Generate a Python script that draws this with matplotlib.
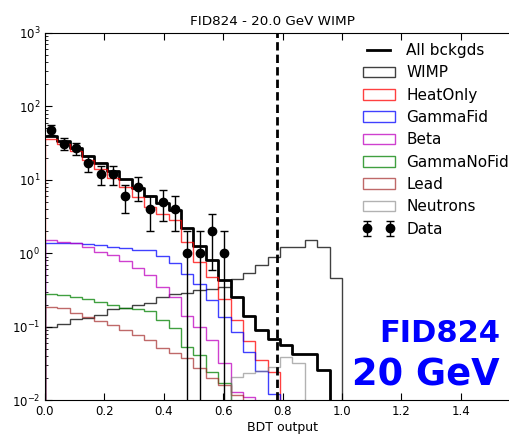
import numpy as np
import matplotlib
matplotlib.use('Agg')
from matplotlib import pyplot as plt

# 24 bins of BDT output between 0 and 1
edges = np.linspace(0, 1, 25)
centers = 0.5 * (edges[:-1] + edges[1:])

all_bckgds = [39.5, 33.8, 27.4, 21.3, 16.8, 13.2, 10.2, 7.8, 6.0, 4.8, 3.9, 2.2,
              1.25, 0.8, 0.43, 0.255, 0.139, 0.09, 0.068, 0.057, 0.043, 0.043, 0.026, 0]
wimp = [0.10, 0.107, 0.125, 0.13, 0.145, 0.172, 0.18, 0.20, 0.21, 0.255, 0.275, 0.29,
        0.32, 0.33, 0.35, 0.44, 0.53, 0.69, 0.88, 1.23, 1.23, 1.51, 1.23, 0.46]
heatonly = [36.5, 30.5, 24.5, 18.5, 14.0, 10.7, 8.0, 5.8, 4.2, 3.4, 2.8, 1.4,
            0.75, 0.47, 0.24, 0.123, 0.063, 0.035, 0.024, 0, 0, 0, 0, 0]
gammafid = [1.39, 1.39, 1.37, 1.33, 1.30, 1.23, 1.19, 1.12, 1.10, 0.93, 0.74, 0.52,
            0.38, 0.23, 0.136, 0.085, 0.045, 0.025, 0.012, 0, 0, 0, 0, 0]
beta = [1.50, 1.43, 1.37, 1.23, 1.04, 0.94, 0.79, 0.62, 0.50, 0.35, 0.255, 0.139,
        0.10, 0.066, 0.032, 0.013, 0.011, 0, 0, 0, 0, 0, 0, 0]
gammanofid = [0.278, 0.267, 0.253, 0.238, 0.218, 0.197, 0.181, 0.172, 0.165, 0.123, 0.095, 0.053,
              0.041, 0.024, 0.017, 0, 0, 0, 0, 0, 0, 0, 0, 0]
lead = [0.187, 0.177, 0.152, 0.136, 0.118, 0.105, 0.090, 0.077, 0.066, 0.0505, 0.044, 0.037,
        0.027, 0.020, 0.016, 0.0117, 0, 0, 0, 0, 0, 0, 0, 0]
neutrons = [0, 0, 0, 0, 0, 0, 0, 0, 0, 0, 0, 0,
            0, 0, 0, 0.0208, 0.023, 0.025, 0.028, 0.039, 0.032, 0, 0, 0]
data_counts = [48, 31, 27, 17, 12, 12, 6, 8, 4, 5, 4, 1, 1, 2, 1]

bdt_cut = 0.78

fig = plt.figure(figsize=(5.09, 4.36), dpi=100)
ax = fig.add_axes([45 / 509, 36 / 436, 475 / 509, 367 / 436])
ax.set_yscale('log')

ax.plot(np.append(edges, edges[-1]), np.concatenate([[all_bckgds[0]], all_bckgds, [0]]),
        drawstyle='steps-pre', color='k', lw=2, label='All bckgds')

components = [
    (wimp, 'k', 0.75, 'WIMP'),
    (heatonly, 'r', 0.75, 'HeatOnly'),
    (gammafid, 'b', 0.75, 'GammaFid'),
    (beta, 'm', 0.75, 'Beta'),
    (gammanofid, 'g', 0.75, 'GammaNoFid'),
    (lead, 'brown', 0.7, 'Lead'),
    (neutrons, 'gray', 0.6, 'Neutrons'),
]
for vals, col, a, lab in components:
    ax.hist(centers, bins=edges, weights=vals, histtype='step', color=col, alpha=a,
            lw=1, label=lab)

dx = centers[:len(data_counts)]
dy = np.array(data_counts, dtype=float)
ax.errorbar(dx, dy, yerr=np.sqrt(dy), fmt='ko', ms=6, ecolor='k', elinewidth=1,
            capsize=3, label='Data')

ax.axvline(bdt_cut, color='k', ls='--', lw=2, dashes=(3, 1.5))

ax.set_ylim(1e-2, 1e3)
ax.set_xlim(0, 1.6)
ax.set_xticks(np.arange(0, 1.5, 0.2))
ax.tick_params(which='both', direction='in', top=True, right=True, labelsize=8.5)
ax.tick_params(which='major', length=5)
ax.tick_params(which='minor', length=2.5)
ax.set_xlabel('BDT output', fontsize=9, labelpad=2)

fig.text(272 / 509, 1 - 25 / 436, 'FID824 - 20.0 GeV WIMP', ha='center', va='baseline', fontsize=9.7)

ax.legend(loc='upper left', bbox_to_anchor=(362.7 / 509, 1 - 43 / 436), bbox_transform=fig.transFigure,
          frameon=False, fontsize=11, numpoints=2, borderpad=0, borderaxespad=0,
          labelspacing=0.48, handlelength=2.1, handletextpad=0.75)

fig.text(500 / 509, 1 - 342 / 436, 'FID824', color='b', fontweight='bold', fontsize=22,
         ha='right', va='baseline')
fig.text(500 / 509, 1 - 385 / 436, '20 GeV', color='b', fontweight='bold', fontsize=26.5,
         ha='right', va='baseline')

fig.savefig('out.png', dpi=100)
